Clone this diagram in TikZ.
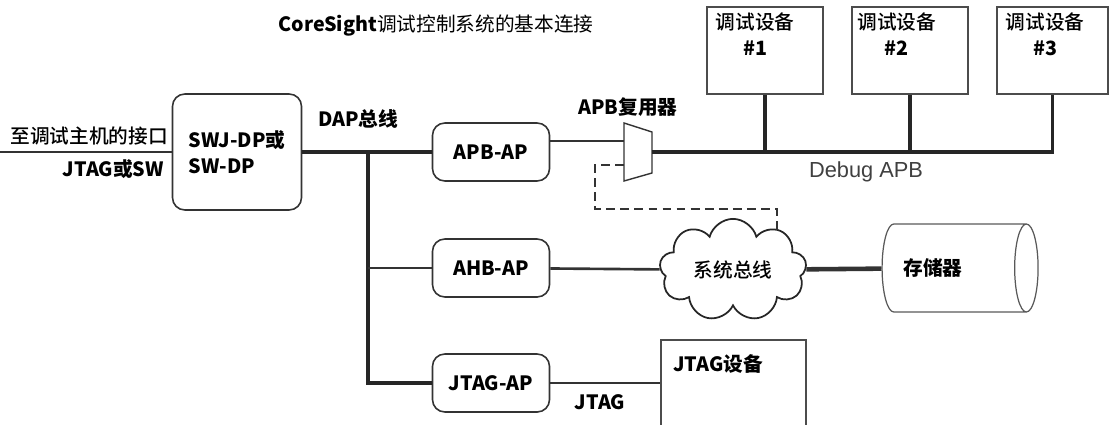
\documentclass[tikz,border=0pt]{standalone}
\usepackage{fontspec}
\setmainfont{Noto Sans CJK SC}
\IfFontExistsTF{Noto Sans CJK SC Medium}
  {\newfontfamily\medfont{Noto Sans CJK SC Medium}}
  {\newfontfamily\medfont{Noto Sans CJK SC}[FakeBold=1.3]}
\newfontfamily\arialfont{Liberation Sans}
\usetikzlibrary{shapes.geometric,shapes.symbols}

\begin{document}
\begin{tikzpicture}[x=0.2mm, y=-0.2mm,
  every node/.style={font=\fontsize{11.2}{15}\selectfont},
  apbox/.style={rectangle, rounded corners=7pt, draw=black!80, line width=0.9pt, minimum width=2.34cm, minimum height=1.16cm, font=\fontsize{11.2}{15}\selectfont\bfseries},
  devbox/.style={rectangle, draw=black!70, line width=0.9pt, minimum width=2.32cm, minimum height=1.74cm},
  lbl/.style={font=\fontsize{11.2}{15}\selectfont\bfseries},
  cn/.style={font=\fontsize{11.2}{15}\selectfont\medfont},
  bus/.style={line width=2.1pt, black!85},
  mid/.style={line width=1.5pt, black!80},
  thinline/.style={line width=0.8pt, black!80},
  selline/.style={line width=1.4pt, black!80, dash pattern=on 5pt off 3pt}
]
  \useasboundingbox (0,0) rectangle (1110,425);

  \node (title) at (436,26) {{\bfseries CoreSight}调试控制系统的基本连接};

  % debug port
  \coordinate (host) at (0,152);
  \node[apbox, minimum width=2.58cm, minimum height=2.32cm, align=left] (swj) at (237,152) {SWJ-DP或\\SW-DP};
  \node[cn, anchor=south east, inner sep=1pt] (hostlbl) at (170,147) {至调试主机的接口};
  \node[lbl, anchor=north east, inner sep=1pt] (swlbl) at (166,157) {JTAG或SW};

  % access ports
  \node[apbox] (apb)  at (491,152) {APB-AP};
  \node[apbox] (ahb)  at (491,268) {AHB-AP};
  \node[apbox] (jtag) at (491,383) {JTAG-AP};
  \node[lbl] (daplbl) at (358,119) {DAP总线};
  \coordinate (dap) at (368,152);

  % APB multiplexer
  \draw[thinline] (624,123) -- (652,132) -- (652,173) -- (624,181) -- cycle;
  \coordinate (muxin)  at (624,141);
  \coordinate (muxout) at (652,152);
  \coordinate (muxsel) at (624,165);
  \node[lbl] (muxlbl) at (628,107) {APB复用器};

  % debug devices
  \node[devbox, label={[cn, anchor=north west, align=center, xshift=2pt]north west:调试设备\\\textbf{\#1}}] (dev1) at (765,50.5) {};
  \node[devbox, label={[cn, anchor=north west, align=center, xshift=0pt]north west:调试设备\\\textbf{\#2}}] (dev2) at (910,50.5) {};
  \node[devbox, minimum width=2.22cm, label={[cn, anchor=north west, align=center, xshift=2pt]north west:调试设备\\\textbf{\#3}}] (dev3) at (1052.5,50.5) {};
  \node[text=black!75, font=\fontsize{12.4}{15}\selectfont\arialfont] (apblbl) at (866,172) {Debug APB};

  % system bus and memory
  \node[cloud, cloud puffs=9, aspect=1.75, draw=black!85, line width=1pt, minimum width=2.94cm, minimum height=1.68cm, cn] (sysbus) at (733,270) {系统总线};
  \node[cylinder, draw=black!65, line width=0.7pt, shape aspect=2, minimum width=1.76cm, minimum height=3.12cm,
        label={[lbl, xshift=-0.36cm]center:存储器}] (mem) at (951,268) {};

  % JTAG device
  \node[devbox, minimum width=2.9cm, minimum height=2cm, label={[lbl, anchor=north west, xshift=4pt, yshift=-5pt]north west:JTAG设备}] (jdev) at (733.5,390) {};
  \node[lbl] (jtaglbl) at (600,402) {JTAG};

  % connections
  \draw[thinline] (host) -- (swj);
  \draw[bus] (swj) -- (apb);
  \draw[bus] (dap) |- (jtag);
  \draw[mid] (dap |- ahb) -- (ahb);
  \draw[mid] (apb.east |- muxin) -- (muxin);
  \draw[bus] (muxout) -- (dev3.south |- muxout) -- (dev3.south);
  \draw[bus] (dev1.south) -- (dev1.south |- muxout);
  \draw[bus] (dev2.south) -- (dev2.south |- muxout);
  \draw[selline] (muxsel) -- ++(-29,0) -- ++(0,44) -| ([xshift=-5pt]sysbus.north east);
  \draw[mid] (ahb) -- (sysbus);
  \draw[line width=2.6pt, black!80] (sysbus) -- (mem);
  \draw[thinline] (jtag) -- (jtag -| jdev.west);
\end{tikzpicture}
\end{document}
